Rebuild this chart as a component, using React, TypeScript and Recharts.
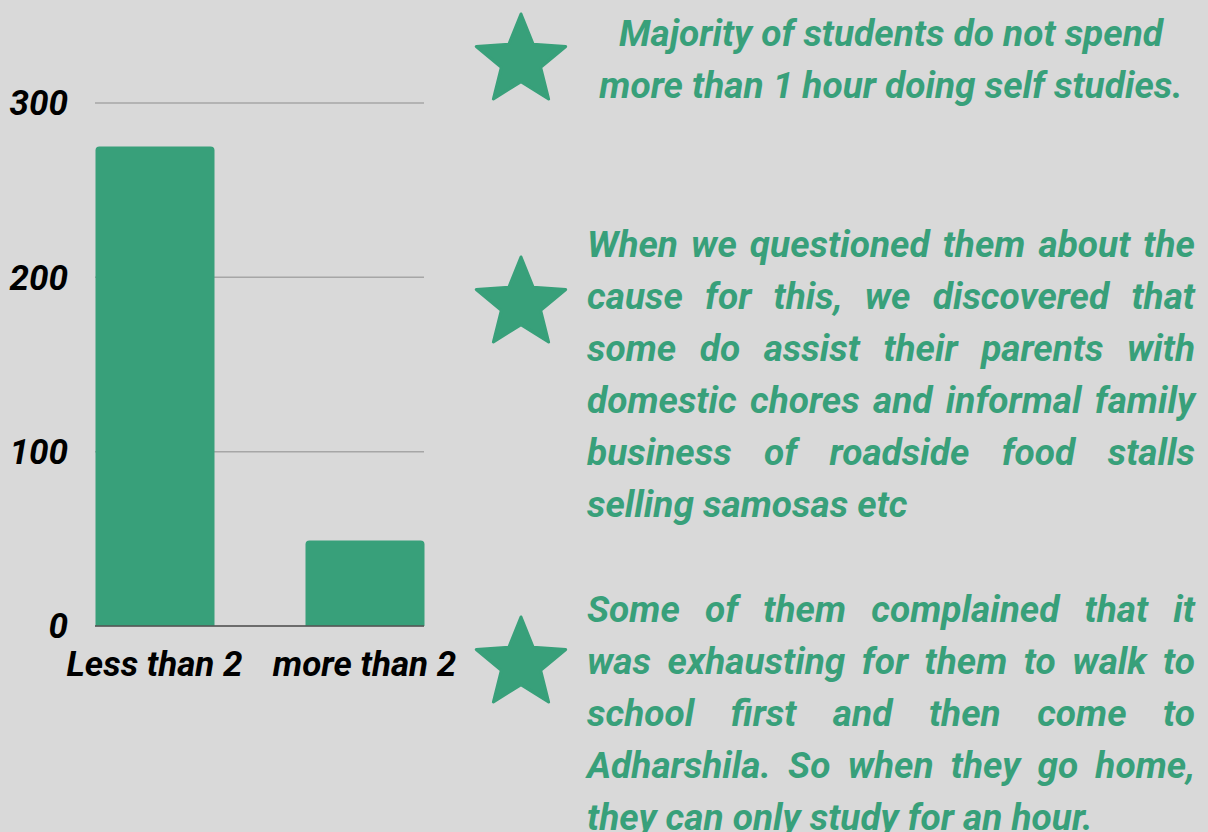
import React from "react";
import { BarChart, Bar, XAxis, YAxis, CartesianGrid, ReferenceLine } from "recharts";

// hours of self study per day
const categories = ["Less than 2", "more than 2"];
const students = [275, 49];
const yTicks = [0, 100, 200, 300];

const data = categories.map((name, i) => ({ name, students: students[i] }));

const GREEN = "#38a07a";
const FONT = "Roboto, 'Noto Sans', sans-serif";

const notes: { top: number; starY: number; lines: string[]; center?: boolean }[] = [
  {
    top: 8,
    starY: 61,
    center: true,
    lines: ["Majority of students do not spend", "more than 1 hour doing self studies."],
  },
  {
    top: 219,
    starY: 304,
    lines: [
      "When we questioned them about the",
      "cause for this, we discovered that",
      "some do assist their parents with",
      "domestic chores and informal family",
      "business of roadside food stalls",
      "selling samosas etc",
    ],
  },
  {
    top: 584,
    starY: 664,
    lines: [
      "Some of them complained that it",
      "was exhausting for them to walk to",
      "school first and then come to",
      "Adharshila. So when they go home,",
      "they can only study for an hour.",
    ],
  },
];

const starPoints = (cx: number, cy: number, r: number, inner: number) => {
  const pts: string[] = [];
  for (let i = 0; i < 10; i++) {
    const rad = i % 2 === 0 ? r : r * inner;
    const a = -Math.PI / 2 + (i * Math.PI) / 5;
    pts.push(`${cx + rad * Math.cos(a)},${cy + rad * Math.sin(a)}`);
  }
  return pts.join(" ");
};

const tickStyle = { fill: "#000", fontSize: 35, fontWeight: 700, fontStyle: "italic", fontFamily: FONT };

export default function App() {
  return (
    <div style={{ position: "fixed", left: 0, top: 0, width: 1208, height: 832, background: "#d9d9d9", overflow: "hidden" }}>
      <div style={{ position: "absolute", left: 0, top: 0 }}>
        <BarChart
          width={470}
          height={700}
          data={data}
          margin={{ top: 103, right: 46, left: 0, bottom: 0 }}
          barSize={119}
        >
          <CartesianGrid vertical={false} stroke="#a6a6a6" strokeWidth={1.5} />
          <XAxis
            dataKey="name"
            height={74}
            padding={{ left: -45.5, right: -45.5 }}
            axisLine={false}
            tickLine={false}
            tickSize={0}
            tickMargin={25}
            tick={tickStyle}
            interval={0}
          />
          <YAxis
            width={95}
            domain={[0, 300]}
            ticks={yTicks}
            axisLine={false}
            tickLine={false}
            tickSize={0}
            tickMargin={27}
            tick={tickStyle}
          />
          <Bar dataKey="students" fill={GREEN} radius={[4, 4, 0, 0]} isAnimationActive={false} />
          <ReferenceLine y={0} stroke="#555" strokeWidth={1.5} />
        </BarChart>
      </div>
      <svg style={{ position: "absolute", left: 0, top: 0 }} width={1208} height={832}>
        {notes.map((n, i) => (
          <polygon
            key={i}
            points={starPoints(521, n.starY, 47, 0.44)}
            fill={GREEN}
            stroke={GREEN}
            strokeWidth={3}
            strokeLinejoin="round"
          />
        ))}
      </svg>
      {notes.map((n, i) => (
        <div
          key={i}
          style={{
            position: "absolute",
            left: 587,
            top: n.top,
            width: 608,
            color: GREEN,
            fontFamily: FONT,
            fontWeight: 700,
            fontStyle: "italic",
            fontSize: 37,
            lineHeight: "52px",
          }}
        >
          {n.lines.map((l, j) => {
            const last = j === n.lines.length - 1;
            return (
              <div
                key={j}
                style={{
                  whiteSpace: "nowrap",
                  textAlign: n.center ? "center" : last ? "left" : "justify",
                  textAlignLast: n.center ? "center" : last ? "left" : "justify",
                }}
              >
                {l}
              </div>
            );
          })}
        </div>
      ))}
    </div>
  );
}
